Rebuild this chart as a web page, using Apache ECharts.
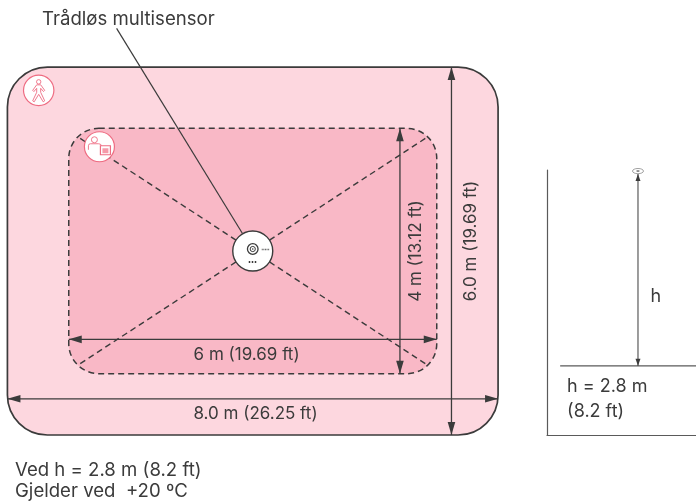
<!DOCTYPE html>
<html><head><meta charset="utf-8">
<style>html,body{margin:0;padding:0;background:#fff}#c{width:696px;height:504px}</style>
<script src="https://cdn.jsdelivr.net/npm/echarts@6/dist/echarts.min.js"></script>
</head><body><div id="c"></div>
<script>
// Coverage zones, full width and height in metres
const zoneNames = ['Passiv sone', 'Aktiv sone'];
const zoneWidths = [8, 6];
const zoneHeights = [6, 4];
const dimWidthLabels = ['8.0 m (26.25 ft)', '6 m (19.69 ft)'];
const dimHeightLabels = ['6.0 m (19.69 ft)', '4 m (13.12 ft)'];
// Side view
const mountHeight = [2.8];
const sideLabels = ['h', 'h = 2.8 m', '(8.2 ft)'];
const sensorLabel = 'Trådløs multisensor';
const noteLines = ['Ved h = 2.8 m (8.2 ft)', 'Gjelder ved  +20 ºC'];

const INK = '#3b3b3b', PINK = '#ee6c82', FONT = 'Inter, Roboto, sans-serif', FS = 17, FS_BIG = 18.6;
const zoneFills = ['#fdd7df', '#f9b8c6'];
const zoneRadius = [40, 30];
const zoneDash = [null, [6, 4]];
const zoneStroke = [1.7, 1.5];
const dimYAt = [-2.41, -1.44];   // where the width arrows sit, metres
const dimXAt = [3.24, 2.4];      // where the height arrows sit, metres
const widthLabelX = [0.045, -0.1];
const widthLabelY = [-2.65, -1.7];
const heightLabelX = [3.56, 2.66];
const heightLabelY = [0.163, 0];

function arrow(a, b, len, half, w) {
  const dx = b[0] - a[0], dy = b[1] - a[1], L = Math.hypot(dx, dy), ux = dx / L, uy = dy / L;
  const head = (p, s) => ({
    type: 'polygon',
    shape: { points: [p, [p[0] + s * ux * len - uy * half, p[1] + s * uy * len + ux * half], [p[0] + s * ux * len + uy * half, p[1] + s * uy * len - ux * half]] },
    style: { fill: INK }
  });
  return [
    { type: 'line', shape: { x1: a[0], y1: a[1], x2: b[0], y2: b[1] }, style: { stroke: INK, lineWidth: w } },
    head(a, 1), head(b, -1)
  ];
}
function txt(x, y, s, rot, size, align) {
  return { type: 'text', x, y, rotation: rot || 0,
    style: { text: s, fill: INK, font: (size || FS) + 'px ' + FONT, align: align || 'center', verticalAlign: 'middle' } };
}
function custom(renderItem, n, z, side) {
  return { type: 'custom', coordinateSystem: 'cartesian2d', xAxisIndex: side ? 1 : 0, yAxisIndex: side ? 1 : 0,
    clip: false, silent: true, z, data: new Array(n).fill(0).map((_, i) => [i, 0]), renderItem };
}
const pStroke = { stroke: PINK, lineWidth: 0.9, fill: null };
function badge(cx, cy, r, kids) {
  return { type: 'group', x: cx, y: cy, children: [
    { type: 'circle', shape: { cx: 0, cy: 0, r }, style: { fill: '#fff', stroke: PINK, lineWidth: 1.2 } }
  ].concat(kids) };
}
const walker = [
  { type: 'circle', shape: { cx: 0, cy: -8.5, r: 2.2 }, style: pStroke },
  { type: 'path', shape: { pathData: 'M-2-5.5H2L6 0L4.8 1.2L2-2V2L6 10.5L4.5 11.5L0 4L-4.5 11.5L-6 10.5L-2 2V-2L-4.8 1.2L-6 0Z', layout: 'none' }, style: pStroke }
];
const presence = [
  { type: 'circle', shape: { cx: -5, cy: -7, r: 3 }, style: pStroke },
  { type: 'path', shape: { pathData: 'M-11 3V-1Q-11-3-9-3H-1Q1-3 2-1.5H1M-11 3', layout: 'none' }, style: pStroke },
  { type: 'rect', shape: { x: 1, y: -1, width: 10, height: 9 }, style: { stroke: PINK, lineWidth: 1.2, fill: '#fff' } },
  { type: 'rect', shape: { x: 3, y: 1.5, width: 6, height: 5 }, style: { stroke: 'none', fill: '#f59aa9' } }
];

const option = {
  animation: false,
  backgroundColor: '#fff',
  title: [
    { text: sensorLabel, left: 42, top: 10, padding: 0, textStyle: { fontFamily: FONT, fontSize: FS_BIG, fontWeight: 'normal', color: INK } },
    { text: noteLines.join('\n'), left: 15, top: 460, padding: 0, textStyle: { fontFamily: FONT, fontSize: FS_BIG, fontWeight: 'normal', color: INK, lineHeight: 21 } }
  ],
  grid: [
    { left: 0, top: 0, width: 696, height: 504 },
    { left: 547, top: 170, width: 149, height: 265 }
  ],
  xAxis: [
    { type: 'value', show: false, min: -4.121, max: 7.227, gridIndex: 0 },
    { type: 'value', gridIndex: 1, min: 0, max: 2.15, axisLine: { show: true, onZero: false, lineStyle: { color: '#5a5a5a', width: 1.2 } }, axisTick: { show: false }, axisLabel: { show: false }, splitLine: { show: false } }
  ],
  yAxis: [
    { type: 'value', show: false, min: -4.125, max: 4.093, gridIndex: 0 },
    { type: 'value', gridIndex: 1, min: -1, max: 2.83, axisLine: { show: true, onZero: false, lineStyle: { color: '#5a5a5a', width: 1.2 } }, axisTick: { show: false }, axisLabel: { show: false }, splitLine: { show: false } }
  ],
  series: [
    // zones
    custom((p, api) => {
      const i = p.dataIndex, a = api.coord([-zoneWidths[i] / 2, zoneHeights[i] / 2]), b = api.coord([zoneWidths[i] / 2, -zoneHeights[i] / 2]);
      return { type: 'rect', shape: { x: a[0], y: a[1], width: b[0] - a[0], height: b[1] - a[1], r: zoneRadius[i] },
        style: { fill: zoneFills[i], stroke: INK, lineWidth: zoneStroke[i], lineDash: zoneDash[i] } };
    }, zoneNames.length, 1),
    // diagonals
    custom((p, api) => {
      const sx = [-1, 1, 1, -1][p.dataIndex], sy = [1, 1, -1, -1][p.dataIndex];
      const a = api.coord([0, 0]), b = api.coord([sx * zoneWidths[1] / 2 * 0.94, sy * zoneHeights[1] / 2 * 0.92]);
      return { type: 'line', shape: { x1: a[0], y1: a[1], x2: b[0], y2: b[1] }, style: { stroke: INK, lineWidth: 1.4, lineDash: [6, 4] } };
    }, 4, 2),
    // width arrows
    custom((p, api) => {
      const i = p.dataIndex, a = api.coord([-zoneWidths[i] / 2, dimYAt[i]]), b = api.coord([zoneWidths[i] / 2, dimYAt[i]]);
      const l = api.coord([widthLabelX[i], widthLabelY[i]]);
      return { type: 'group', children: arrow(a, b, 13, 3.8, 1.3).concat(txt(l[0], l[1], dimWidthLabels[i])) };
    }, 2, 3),
    // height arrows
    custom((p, api) => {
      const i = p.dataIndex, a = api.coord([dimXAt[i], zoneHeights[i] / 2]), b = api.coord([dimXAt[i], -zoneHeights[i] / 2]);
      const l = api.coord([heightLabelX[i], heightLabelY[i]]);
      return { type: 'group', children: arrow(a, b, 13, 3.8, 1.3).concat(txt(l[0], l[1], dimHeightLabels[i], Math.PI / 2)) };
    }, 2, 3),
    // leader line
    custom((p, api) => {
      const a = api.coord([-2.22, 3.63]), b = api.coord([-0.17, 0.29]);
      return { type: 'line', shape: { x1: a[0], y1: a[1], x2: b[0], y2: b[1] }, style: { stroke: INK, lineWidth: 1.2 } };
    }, 1, 6),
    // sensor disc
    custom((p, api) => {
      const c = api.coord([0, 0]);
      return { type: 'group', x: c[0], y: c[1], children: [
        { type: 'circle', shape: { cx: 0, cy: 0, r: 20 }, style: { fill: '#fff', stroke: INK, lineWidth: 1.4 } },
        { type: 'circle', shape: { cx: 0, cy: -2, r: 5.3 }, style: { fill: '#fff', stroke: INK, lineWidth: 1.3 } },
        { type: 'circle', shape: { cx: 0, cy: -2, r: 2.6 }, style: { fill: '#fff', stroke: INK, lineWidth: 1 } },
        { type: 'circle', shape: { cx: 0, cy: -2, r: 0.8 }, style: { fill: INK } },
        { type: 'line', shape: { x1: 9, y1: -1.5, x2: 17, y2: -1.5 }, style: { stroke: '#666', lineWidth: 1.6, lineDash: [1, 0.6] } },
        { type: 'line', shape: { x1: -4, y1: 11, x2: 4, y2: 11 }, style: { stroke: INK, lineWidth: 2, lineDash: [1.5, 1.5] } }
      ] };
    }, 1, 5),
    // badges
    custom((p, api) => {
      const c = api.coord([-3.49, 2.62]);
      return badge(c[0], c[1], 15.2, walker);
    }, 1, 7),
    custom((p, api) => {
      const c = api.coord([-2.5, 1.7]);
      return badge(c[0], c[1], 15, presence);
    }, 1, 7),
    // side view
    custom((p, api) => {
      const h = api.value(1), top = api.coord([1.313, h]), base = api.coord([1.313, 0]);
      const gA = api.coord([0.19, 0]), gB = api.coord([2.15, 0]);
      const lh = api.coord([1.57, 1.0]), l1 = api.coord([0.29, -0.3]), l2 = api.coord([0.29, -0.66]);
      return { type: 'group', children: [
        { type: 'line', shape: { x1: gA[0], y1: gA[1], x2: gB[0], y2: gB[1] }, style: { stroke: '#5a5a5a', lineWidth: 1.2 } },
        { type: 'ellipse', shape: { cx: top[0], cy: top[1] - 1, rx: 5.5, ry: 2.6 }, style: { fill: '#fff', stroke: '#8a8a8a', lineWidth: 0.8 } },
        { type: 'ellipse', shape: { cx: top[0], cy: top[1] - 1, rx: 1.8, ry: 0.8 }, style: { fill: '#777', stroke: null } }
      ].concat(arrow([top[0], top[1] + 2], base, 7, 2.5, 1), [
        txt(lh[0], lh[1], sideLabels[0], 0, 18),
        txt(l1[0], l1[1], sideLabels[1], 0, 18, 'left'),
        txt(l2[0], l2[1], sideLabels[2], 0, 18, 'left')
      ]) };
    }, 1, 4, true)
  ]
};
option.series[option.series.length - 1].data = [[0, mountHeight[0]]];
const chart = echarts.init(document.getElementById('c'), null, { renderer: 'canvas' });
chart.setOption(option);
</script></body></html>
